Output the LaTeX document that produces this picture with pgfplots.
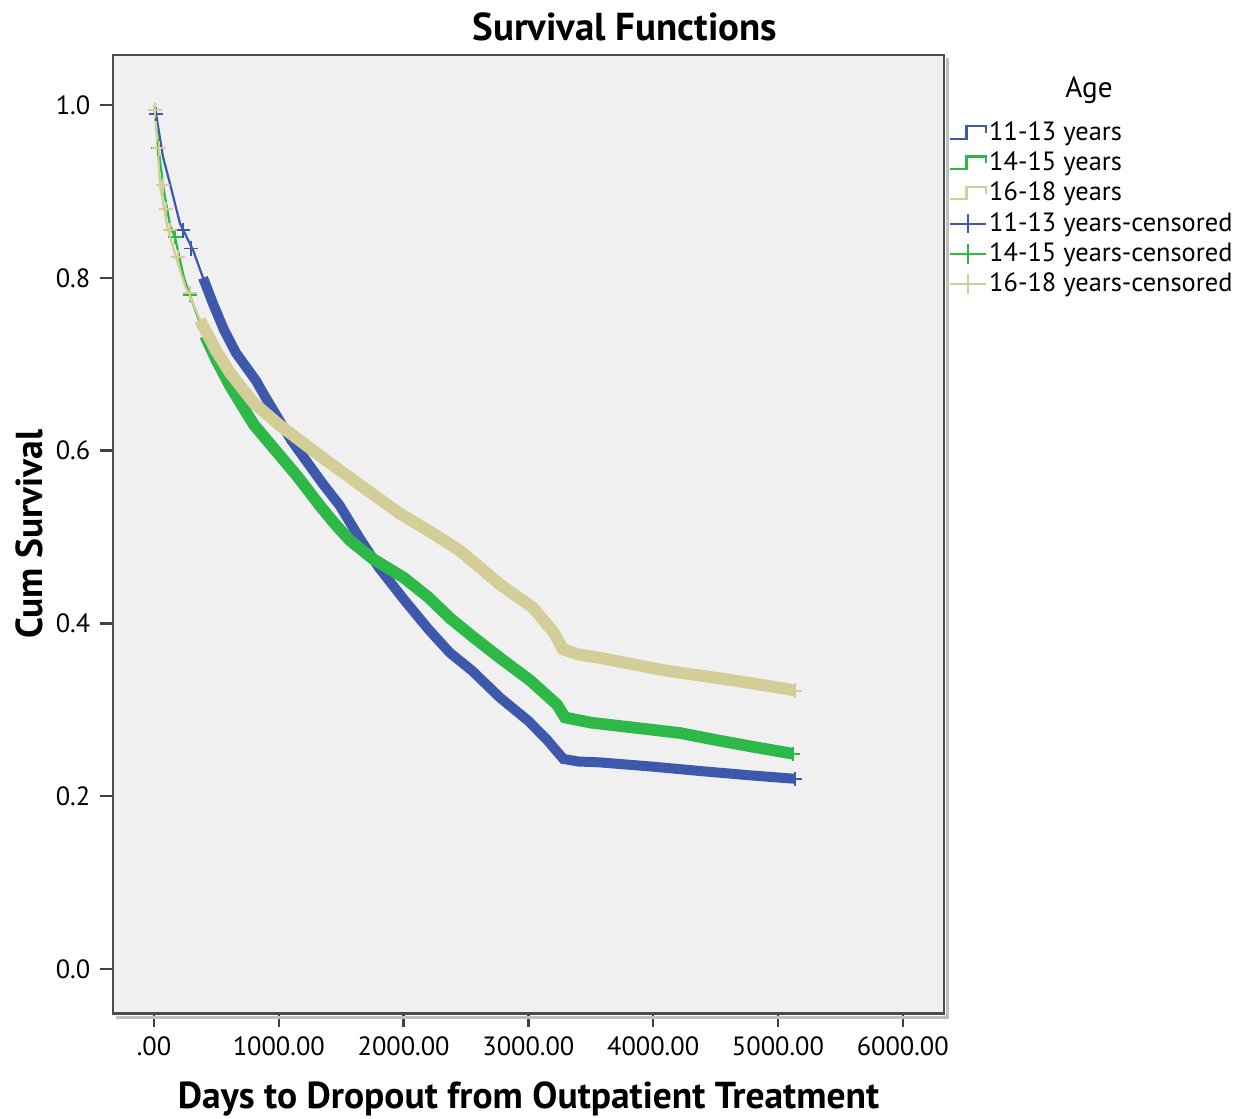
\documentclass[border=0pt]{standalone}
\usepackage{pgfplots}
\usepackage{pgfplotstable}
\pgfplotsset{compat=1.18}
\usepackage{fontspec}
\setmainfont{PT Sans}

\definecolor{ageA}{HTML}{3E58AC}
\definecolor{ageB}{HTML}{2EB848}
\definecolor{ageC}{HTML}{D3CE97}
\definecolor{panel}{HTML}{F0F0F0}

\pgfplotsset{
  steplegend/.style={legend image code/.code={%
    \draw[##1] (0pt,-2pt) -- (6pt,-2pt) -- (6pt,2.5pt) -- (13pt,2.5pt) -- (13pt,0pt);}},
  censlegend/.style={legend image code/.code={%
    \draw[##1] (0pt,0pt) -- (13pt,0pt); \draw[##1] (6.5pt,-3.5pt) -- (6.5pt,3.5pt);}},
}

% Kaplan--Meier estimates (days, cumulative survival)
\pgfplotstableread{
days surv
0    1.000
16   0.990
72   0.940
128  0.909
208  0.863
313  0.832
393  0.800
473  0.770
560  0.740
657  0.713
817  0.681
900  0.660
1000 0.636
1100 0.612
1200 0.592
1350 0.562
1490 0.536
1650 0.498
1800 0.465
2000 0.428
2200 0.393
2370 0.366
2550 0.345
2772 0.314
3000 0.287
3150 0.265
3280 0.243
3400 0.240
3570 0.239
4000 0.234
4375 0.229
4775 0.224
5136 0.220
}\ageAtab

\pgfplotstableread{
days surv
0    1.000
20   0.975
35   0.950
80   0.900
130  0.860
168  0.847
240  0.800
288  0.780
350  0.755
409  0.733
500  0.705
609  0.675
800  0.630
1010 0.594
1150 0.570
1330 0.536
1450 0.515
1570 0.496
1750 0.475
2000 0.453
2200 0.430
2372 0.406
2550 0.385
2772 0.360
3013 0.334
3229 0.306
3293 0.291
3500 0.285
3800 0.280
4215 0.273
4500 0.265
4800 0.257
5120 0.249
}\ageBtab

\pgfplotstableread{
days surv
0    1.000
20   0.970
48   0.907
112  0.855
176  0.824
250  0.790
300  0.775
369  0.751
500  0.715
609  0.690
800  0.655
1010 0.629
1330 0.594
1500 0.576
1730 0.552
1971 0.527
2236 0.504
2452 0.484
2600 0.466
2772 0.445
3037 0.418
3200 0.390
3277 0.370
3400 0.364
3574 0.360
4111 0.345
4639 0.334
5072 0.324
5136 0.322
}\ageCtab

\begin{document}
\begin{tikzpicture}
\begin{axis}[
  scale only axis,
  width=299pt, height=345pt,
  xmin=-328, xmax=6330,
  ymin=-0.052, ymax=1.058,
  axis background/.style={fill=panel},
  axis line style={draw=black!70, line width=1pt},
  tick align=outside,
  major tick length=4.7pt,
  tick style={black!75, line width=0.9pt},
  xtick pos=bottom, ytick pos=left,
  xtick={0,1000,2000,3000,4000,5000,6000},
  xticklabels={.00,1000.00,2000.00,3000.00,4000.00,5000.00,6000.00},
  ytick={0,0.2,0.4,0.6,0.8,1.0},
  yticklabels={0.0,0.2,0.4,0.6,0.8,1.0},
  /pgf/number format/assume math mode=true,
  ticklabel style={font=\fontsize{9.5}{11}\selectfont},
  title={Survival Functions},
  title style={at={(0.616,1)}, anchor=south, yshift=-4.5pt,
    font=\fontsize{14}{15}\selectfont\bfseries},
  xlabel={Days to Dropout from Outpatient Treatment},
  every axis x label/.style={at={(axis description cs:0.5,0)}, anchor=center,
    yshift=-30.6pt, font=\fontsize{13.5}{15}\selectfont\bfseries},
  ylabel={Cum Survival},
  every axis y label/.style={at={(axis description cs:0,0.5)}, anchor=center,
    rotate=90, yshift=30pt, font=\fontsize{13.5}{15}\selectfont\bfseries},
  legend style={draw=none, fill=none, at={(1,1)}, anchor=north west,
    xshift=1.5pt, yshift=-23pt, font=\fontsize{9.5}{10}\selectfont,
    row sep=1.0pt, inner sep=0pt,
    nodes={inner sep=0.8pt}},
  legend cell align=left,
  clip=true,
]
\coordinate (ll) at (rel axis cs:0,0);
\coordinate (ur) at (rel axis cs:1,1);

% survival step functions
\addplot[ageA, line width=0.8pt, steplegend] table[x=days, y=surv] {\ageAtab};
\addlegendentry{11-13 years}
\addplot[ageB, line width=0.8pt, steplegend] table[x=days, y=surv] {\ageBtab};
\addlegendentry{14-15 years}
\addplot[ageC, line width=0.8pt, steplegend] table[x=days, y=surv] {\ageCtab};
\addlegendentry{16-18 years}

% censored cases: dense runs along each curve
\addplot[ageA, line width=3.6pt, forget plot, restrict x to domain=340:6000]
  table[x=days, y=surv] {\ageAtab};
\addplot[ageB, line width=4.2pt, forget plot, restrict x to domain=370:6000]
  table[x=days, y=surv] {\ageBtab};
\addplot[ageC, line width=4.3pt, forget plot, restrict x to domain=360:6000]
  table[x=days, y=surv] {\ageCtab};

% censored cases: isolated marks
\addplot[ageA, only marks, mark=+, mark size=2.6pt, line width=0.7pt, censlegend]
  coordinates {(16,0.990) (232,0.855) (297,0.834) (5136,0.220)};
\addlegendentry{11-13 years-censored}
\addplot[ageB, only marks, mark=+, mark size=2.6pt, line width=0.7pt, censlegend]
  coordinates {(32,0.950) (168,0.847) (288,0.780) (5120,0.249)};
\addlegendentry{14-15 years-censored}
\addplot[ageC, only marks, mark=+, mark size=2.6pt, line width=0.7pt, censlegend]
  coordinates {(8,0.994) (40,0.950) (72,0.907) (96,0.880) (128,0.855) (192,0.824) (288,0.782) (5136,0.322)};
\addlegendentry{16-18 years-censored}
\end{axis}

% drop shadow of the frame
\draw[black!25, line width=1.2pt] ([shift={(1.3pt,-1pt)}]ur) -- ([shift={(1.3pt,-1.3pt)}]ur |- ll) -- ([shift={(1pt,-1.3pt)}]ll);
\node[font=\fontsize{10.5}{12}\selectfont] at ([shift={(52.2pt,-12.5pt)}]ur) {Age};

\pgfresetboundingbox
\path ([shift={(-40.7pt,-37.8pt)}]ll) rectangle ([shift={(110.5pt,19.8pt)}]ur);
\end{tikzpicture}
\end{document}
